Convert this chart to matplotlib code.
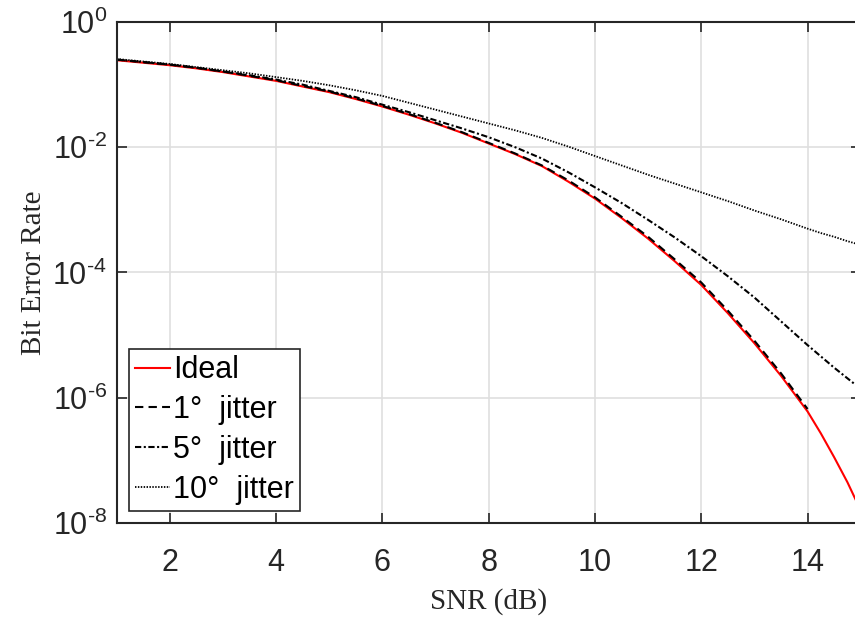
"""BER vs SNR for different phase jitter levels"""
import numpy as np
import matplotlib
matplotlib.use('Agg')
import matplotlib.pyplot as plt
from matplotlib.ticker import FixedLocator, NullLocator, FuncFormatter

# SNR grid (dB)
snr = [1.0, 1.5, 2.0, 2.5, 3.0, 3.5, 4.0, 4.5, 5.0, 5.5, 6.0, 6.5, 7.0, 7.5,
       8.0, 8.5, 9.0, 9.5, 10.0, 10.5, 11.0, 11.5, 12.0, 12.5, 13.0, 13.5,
       14.0, 14.25, 14.5, 14.75, 15.0]

# log10(BER)
ber_ideal = [-0.61, -0.65, -0.69, -0.74, -0.80, -0.87, -0.94, -1.03, -1.12,
             -1.23, -1.35, -1.48, -1.62, -1.77, -1.94, -2.11, -2.30, -2.55,
             -2.82, -3.13, -3.46, -3.82, -4.20, -4.65, -5.13, -5.65, -6.22,
             -6.57, -6.95, -7.35, -7.80]
snr_1deg = snr[:27]
ber_1deg = [-0.60, -0.64, -0.68, -0.73, -0.79, -0.86, -0.93, -1.02, -1.11,
            -1.22, -1.34, -1.47, -1.61, -1.76, -1.93, -2.10, -2.29, -2.53,
            -2.80, -3.11, -3.43, -3.79, -4.16, -4.61, -5.09, -5.61, -6.18]
ber_5deg = [-0.60, -0.64, -0.68, -0.73, -0.79, -0.85, -0.92, -1.00, -1.10,
            -1.20, -1.32, -1.44, -1.57, -1.70, -1.84, -2.00, -2.18, -2.40,
            -2.64, -2.89, -3.16, -3.44, -3.74, -4.06, -4.40, -4.78, -5.16,
            -5.34, -5.52, -5.69, -5.86]
ber_10deg = [-0.59, -0.63, -0.67, -0.72, -0.77, -0.82, -0.88, -0.94, -1.01,
             -1.09, -1.18, -1.29, -1.40, -1.51, -1.62, -1.73, -1.85, -1.99,
             -2.14, -2.29, -2.44, -2.58, -2.72, -2.86, -3.01, -3.15, -3.30,
             -3.37, -3.43, -3.50, -3.56]

x_ticks = [2, 4, 6, 8, 10, 12, 14]
y_ticks = [1e-8, 1e-6, 1e-4, 1e-2, 1e0]


def pow10_label(val, pos):
    # MATLAB style 10^-k with a plain hyphen
    k = int(round(np.log10(val)))
    if k < 0:
        return '$10^{\\text{-%d}}$' % (-k)
    return '$10^{%d}$' % k


dark = '#262626'
plt.rcParams['font.family'] = ['Liberation Sans', 'DejaVu Sans']
plt.rcParams['mathtext.fontset'] = 'custom'
plt.rcParams['mathtext.rm'] = 'Liberation Sans'
plt.rcParams['mathtext.it'] = 'Liberation Sans'

fig = plt.figure(figsize=(8.55, 6.17), dpi=100)
ax = fig.add_axes([0.1365, 0.1524, 0.8702, 0.8119])

ax.semilogy(snr, 10 ** np.array(ber_ideal), 'r-', lw=1.5, label='Ideal')
ax.semilogy(snr_1deg, 10 ** np.array(ber_1deg), 'k', ls=(0, (4, 2.5)), lw=1.5,
            label='1°  jitter')
ax.semilogy(snr, 10 ** np.array(ber_5deg), 'k', ls=(0, (3, 1.2, 1, 1.2)),
            lw=1.5, label='5°  jitter')
ax.semilogy(snr, 10 ** np.array(ber_10deg), 'k', ls=(0, (0.8, 0.8)), lw=1.3,
            label='10°  jitter')

ax.set_xlim(1, 15)
ax.set_ylim(1e-8, 1)
ax.xaxis.set_major_locator(FixedLocator(x_ticks))
ax.yaxis.set_major_locator(FixedLocator(y_ticks))
ax.yaxis.set_minor_locator(NullLocator())
ax.yaxis.set_major_formatter(FuncFormatter(pow10_label))
ax.grid(True, color='#dfdfdf', lw=1.2)
ax.set_axisbelow(True)

ax.tick_params(direction='in', length=7, width=1.2, colors=dark,
               labelsize=22, top=True, right=True)
ax.tick_params(axis='x', pad=18)
ax.tick_params(axis='y', pad=7)
for sp in ax.spines.values():
    sp.set_color(dark)
    sp.set_linewidth(1.5)

ax.set_xlabel('SNR (dB)', family='Liberation Serif', fontsize=21, color=dark,
              labelpad=7)
ax.set_ylabel('Bit Error Rate', family='Liberation Serif', fontsize=21,
              color=dark, labelpad=4)

leg = ax.legend(loc='lower left', fontsize=22, fancybox=False, framealpha=1,
                edgecolor=dark, handlelength=1.15, handletextpad=0.1,
                labelspacing=0.32, borderpad=0.2, borderaxespad=0.4)
leg.get_frame().set_linewidth(1.2)

fig.savefig('out.png', dpi=100)
